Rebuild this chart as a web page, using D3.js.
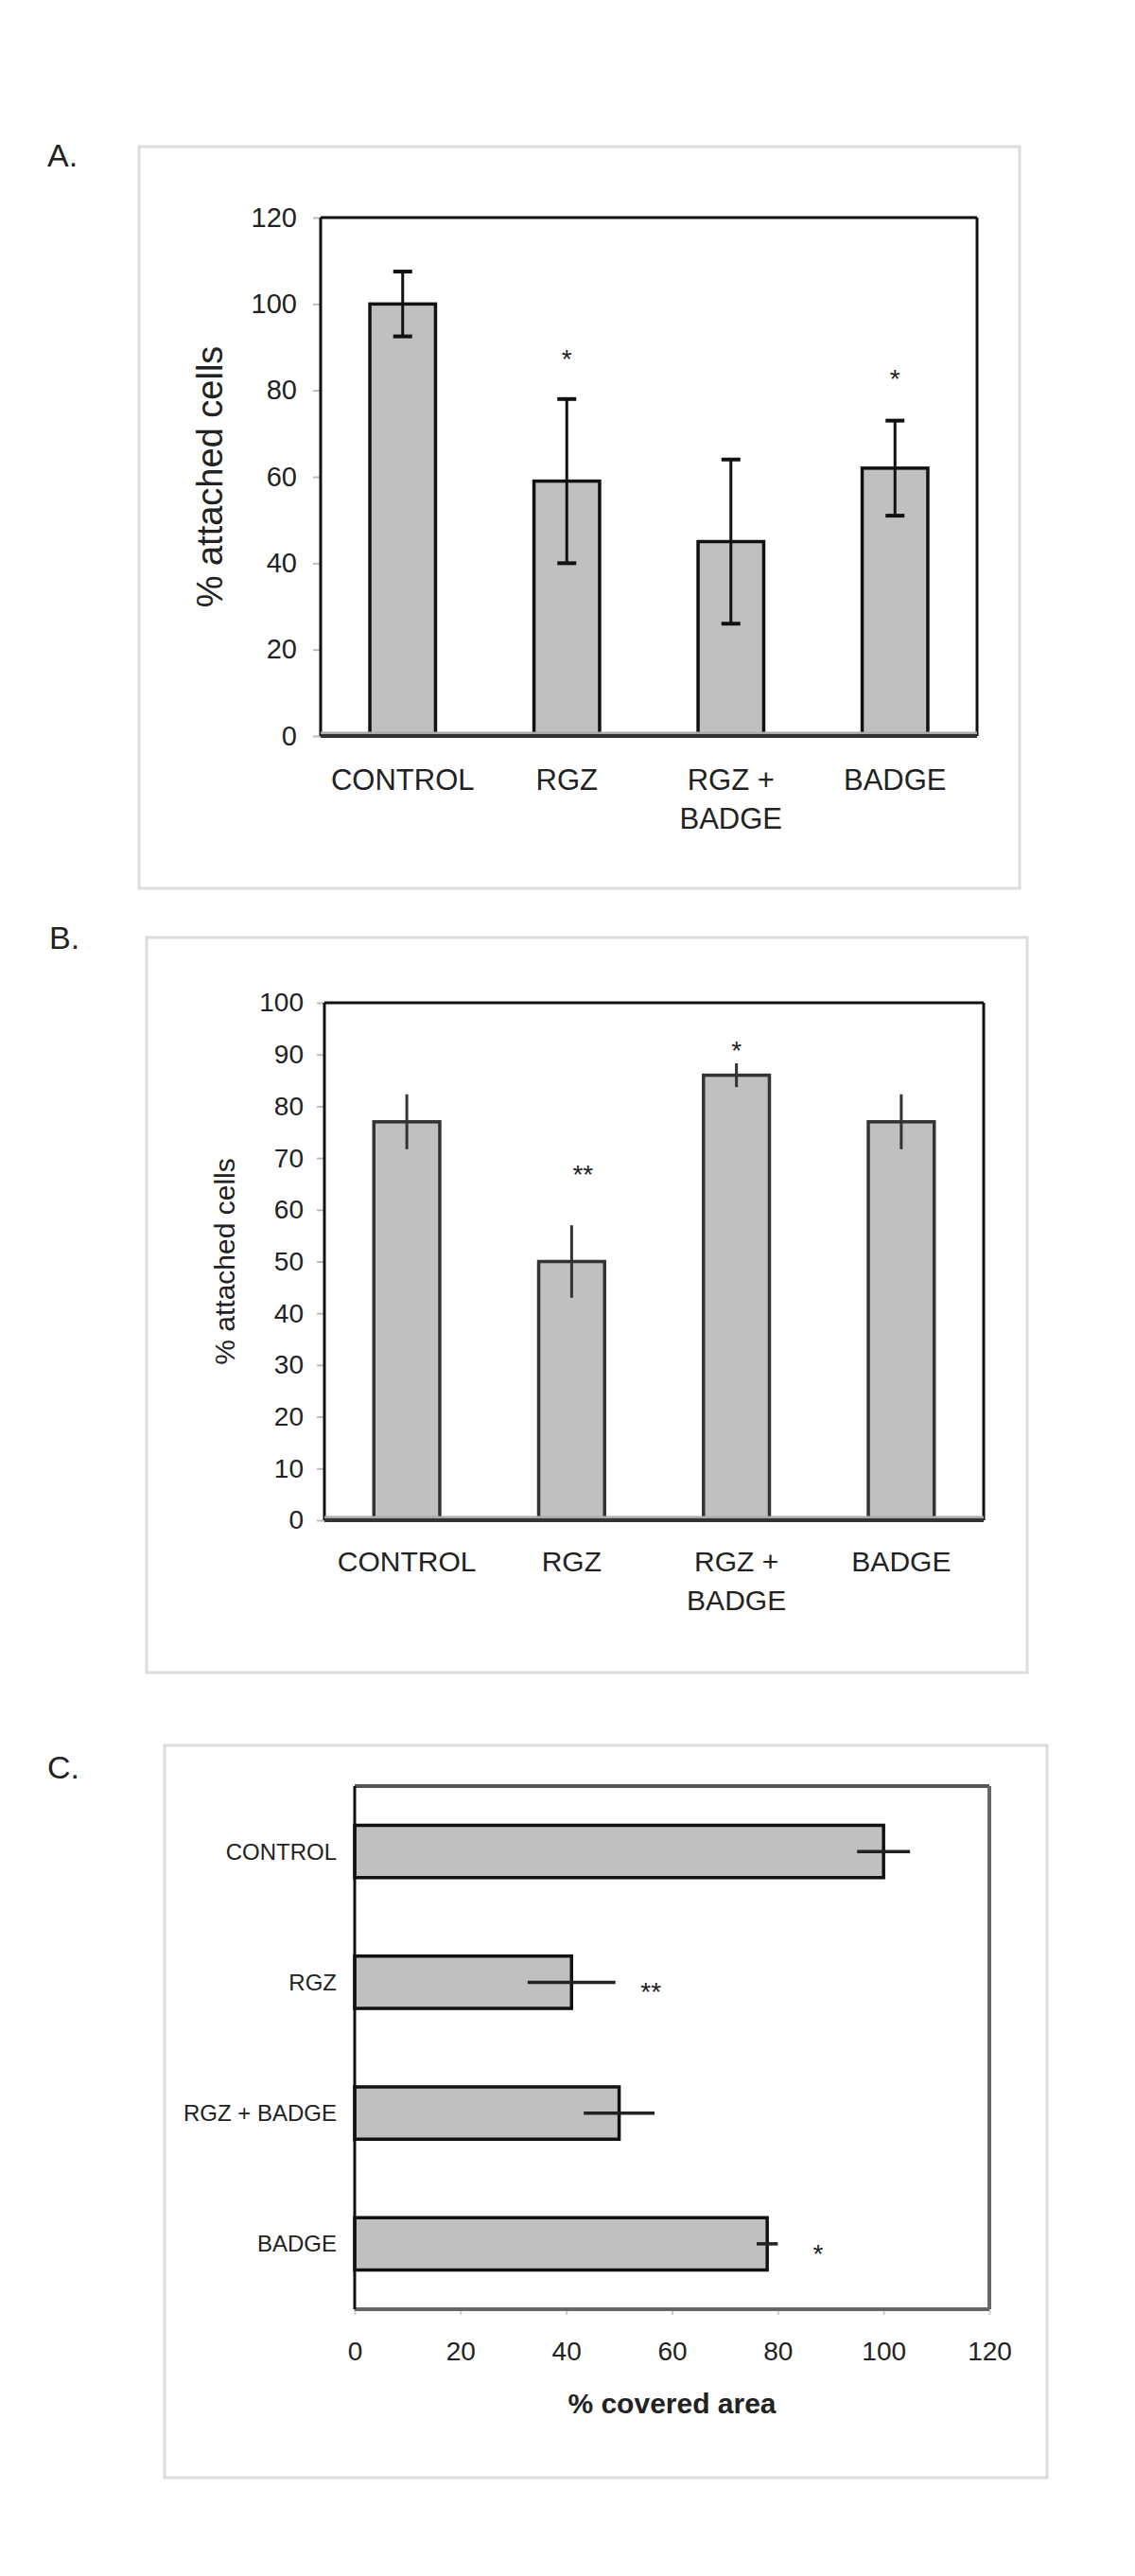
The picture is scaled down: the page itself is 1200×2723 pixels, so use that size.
<!DOCTYPE html>
<html>
<head>
<meta charset="utf-8">
<title>attached cells</title>
<script src="https://cdn.jsdelivr.net/npm/d3@7"></script>
<style>
  body { margin: 0; background: #fff; }
  text { font-family: "Liberation Sans", Arial, sans-serif; fill: #222; }
</style>
</head>
<body>
<script>
// data
var categories = ["CONTROL", "RGZ", "RGZ + BADGE", "BADGE"];

var attachedA = [100, 59, 45, 62];
var errA = [7.5, 19, 19, 11];
var starsA = ["", "*", "", "*"];
var starAtA = [null, 88.7, null, 84];
var ticksA = [0, 20, 40, 60, 80, 100, 120];

var attachedB = [77, 50, 86, 77];
var errB = [5.3, 7, 2.3, 5.3];
var starsB = ["", "**", "*", ""];
var starAtB = [null, 68, 92, null];
var ticksB = [0, 10, 20, 30, 40, 50, 60, 70, 80, 90, 100];

var coveredC = [100, 41, 50, 78];
var errC = [5, 8.3, 6.7, 2];
var starsC = ["", "**", "", "*"];
var starAtC = [null, 56, null, 87.6];
var ticksC = [0, 20, 40, 60, 80, 100, 120];

var svg = d3.select("body").append("svg").attr("width", 1200).attr("height", 2723);

function catLines(c) {
  return c == "RGZ + BADGE" ? ["RGZ +", "BADGE"] : [c];
}

// vertical bar panel (A and B)
function vPanel(o) {
  svg.append("rect").attr("x", o.frame[0]).attr("y", o.frame[1])
    .attr("width", o.frame[2] - o.frame[0]).attr("height", o.frame[3] - o.frame[1])
    .attr("fill", "none").attr("stroke", "#dcdcdc").attr("stroke-width", 3);
  svg.append("text").attr("x", o.tag[0]).attr("y", o.tag[1]).attr("font-size", 34).text(o.tagText);

  var w = o.plot[2] - o.plot[0], h = o.plot[3] - o.plot[1];
  var g = svg.append("g").attr("transform", "translate(" + o.plot[0] + "," + o.plot[1] + ")");
  var x = d3.scaleBand().domain(categories).range([0, w]).paddingInner(0.6).paddingOuter(0.3);
  var y = d3.scaleLinear().domain([0, d3.max(o.ticks)]).range([h, 0]);

  var ax = g.append("g").call(d3.axisLeft(y).tickValues(o.ticks).tickSize(8).tickPadding(o.pad));
  ax.select(".domain").remove();
  ax.selectAll("line").attr("stroke", "#bbb").attr("stroke-width", 2);
  ax.selectAll("text").attr("font-size", o.tickFont).attr("fill", "#222")
    .attr("font-family", "Liberation Sans, Arial, sans-serif");

  // plot frame
  g.append("line").attr("x1", 0).attr("x2", w).attr("y1", 0).attr("y2", 0).attr("stroke", "#111").attr("stroke-width", 3);
  g.append("line").attr("x1", 0).attr("x2", 0).attr("y1", 0).attr("y2", h).attr("stroke", "#111").attr("stroke-width", 3);
  g.append("line").attr("x1", w).attr("x2", w).attr("y1", 0).attr("y2", h).attr("stroke", "#111").attr("stroke-width", 3);

  g.selectAll("rect.bar").data(o.values).enter().append("rect").attr("class", "bar")
    .attr("x", function(d, i) { return x(categories[i]); })
    .attr("y", function(d) { return y(d); })
    .attr("width", x.bandwidth())
    .attr("height", function(d) { return h - y(d); })
    .attr("fill", "#c0c0c0").attr("stroke", o.barStroke).attr("stroke-width", 3.5);

  // bottom axis line
  g.append("line").attr("x1", 0).attr("x2", w).attr("y1", h - 3).attr("y2", h - 3).attr("stroke", "#aaa").attr("stroke-width", 3);
  g.append("line").attr("x1", 0).attr("x2", w).attr("y1", h).attr("y2", h).attr("stroke", "#333").attr("stroke-width", 4);

  var cx = function(i) { return x(categories[i]) + x.bandwidth() / 2; };
  g.selectAll("line.err").data(o.values).enter().append("line").attr("class", "err")
    .attr("x1", function(d, i) { return cx(i); }).attr("x2", function(d, i) { return cx(i); })
    .attr("y1", function(d, i) { return y(d + o.err[i]); })
    .attr("y2", function(d, i) { return y(d - o.err[i]); })
    .attr("stroke", o.errColor).attr("stroke-width", 3);
  if (o.caps) {
    [1, -1].forEach(function(s) {
      g.selectAll("line.cap" + s).data(o.values).enter().append("line")
        .attr("x1", function(d, i) { return cx(i) - 10; }).attr("x2", function(d, i) { return cx(i) + 10; })
        .attr("y1", function(d, i) { return y(d + s * o.err[i]); })
        .attr("y2", function(d, i) { return y(d + s * o.err[i]); })
        .attr("stroke", "#111").attr("stroke-width", 4);
    });
  }

  g.selectAll("text.star").data(o.stars).enter().append("text").attr("class", "star")
    .attr("x", function(d, i) { return cx(i) + (d.length > 1 ? o.dblShift : 0); })
    .attr("y", function(d, i) { return o.starAt[i] == null ? 0 : y(o.starAt[i]) + 16; })
    .attr("text-anchor", "middle").attr("font-size", 28)
    .text(function(d) { return d; });

  var lab = g.selectAll("text.cat").data(categories).enter().append("text").attr("class", "cat")
    .attr("text-anchor", "middle").attr("font-size", o.catFont)
    .attr("y", h + o.catY);
  lab.each(function(c, i) {
    var t = d3.select(this);
    catLines(c).forEach(function(s, k) {
      t.append("tspan").attr("x", cx(i)).attr("dy", k == 0 ? 0 : 41).text(s);
    });
  });

  g.append("text").attr("transform", "translate(" + o.yLabX + "," + (h / 2) + ") rotate(-90)")
    .attr("text-anchor", "middle").attr("font-size", o.yLabFont).text("% attached cells");
}

vPanel({
  frame: [147, 155, 1078, 939], tag: [50, 176], tagText: "A.",
  plot: [339, 230, 1033, 778], ticks: ticksA, pad: 17, tickFont: 29,
  values: attachedA, err: errA, stars: starsA, starAt: starAtA, dblShift: 0,
  barStroke: "#111", errColor: "#111", caps: true,
  catFont: 31, catY: 57, yLabX: -104, yLabFont: 38
});

vPanel({
  frame: [155, 991, 1086, 1768], tag: [52, 1003], tagText: "B.",
  plot: [343, 1060, 1040, 1607], ticks: ticksB, pad: 14, tickFont: 28,
  values: attachedB, err: errB, stars: starsB, starAt: starAtB, dblShift: 12,
  barStroke: "#333", errColor: "#333", caps: false,
  catFont: 30, catY: 54, yLabX: -95, yLabFont: 30
});

// panel C: horizontal bars
(function() {
  svg.append("rect").attr("x", 174).attr("y", 1845).attr("width", 933).attr("height", 774)
    .attr("fill", "none").attr("stroke", "#dcdcdc").attr("stroke-width", 3);
  svg.append("text").attr("x", 50).attr("y", 1880).attr("font-size", 34).text("C.");

  var left = 375, top = 1888, w = 671, h = 553;
  var g = svg.append("g").attr("transform", "translate(" + left + "," + top + ")");
  var y = d3.scaleBand().domain(categories).range([0, h]).paddingInner(0.6).paddingOuter(0.3);
  var x = d3.scaleLinear().domain([0, 120]).range([0, w]);

  var ax = g.append("g").attr("transform", "translate(0," + h + ")")
    .call(d3.axisBottom(x).tickValues(ticksC).tickSize(6).tickPadding(28));
  ax.select(".domain").remove();
  ax.selectAll("line").attr("stroke", "#ccc").attr("stroke-width", 2);
  ax.selectAll("text").attr("font-size", 28).attr("fill", "#222")
    .attr("font-family", "Liberation Sans, Arial, sans-serif");

  g.selectAll("rect.bar").data(coveredC).enter().append("rect").attr("class", "bar")
    .attr("x", 0)
    .attr("y", function(d, i) { return y(categories[i]); })
    .attr("width", function(d) { return x(d); })
    .attr("height", y.bandwidth())
    .attr("fill", "#c0c0c0").attr("stroke", "#111").attr("stroke-width", 3.5);

  // plot frame
  g.append("line").attr("x1", 0).attr("x2", w).attr("y1", 0).attr("y2", 0).attr("stroke", "#555").attr("stroke-width", 4);
  g.append("line").attr("x1", w).attr("x2", w).attr("y1", 0).attr("y2", h).attr("stroke", "#666").attr("stroke-width", 4);
  g.append("line").attr("x1", 0).attr("x2", w).attr("y1", h).attr("y2", h).attr("stroke", "#666").attr("stroke-width", 4);
  g.append("line").attr("x1", 0).attr("x2", 0).attr("y1", 0).attr("y2", h).attr("stroke", "#111").attr("stroke-width", 3);

  var cy = function(i) { return y(categories[i]) + y.bandwidth() / 2; };
  g.selectAll("line.err").data(coveredC).enter().append("line").attr("class", "err")
    .attr("y1", function(d, i) { return cy(i); }).attr("y2", function(d, i) { return cy(i); })
    .attr("x1", function(d, i) { return x(d - errC[i]); })
    .attr("x2", function(d, i) { return x(d + errC[i]); })
    .attr("stroke", "#222").attr("stroke-width", 3.5);

  g.selectAll("text.star").data(starsC).enter().append("text")
    .attr("x", function(d, i) { return starAtC[i] == null ? 0 : x(starAtC[i]); })
    .attr("y", function(d, i) { return cy(i) + 20; })
    .attr("text-anchor", "middle").attr("font-size", 28)
    .text(function(d) { return d; });

  g.selectAll("text.cat").data(categories).enter().append("text")
    .attr("x", -19).attr("y", function(d, i) { return cy(i); }).attr("dy", "0.35em")
    .attr("text-anchor", "end").attr("font-size", 24).text(function(d) { return d; });

  g.append("text").attr("x", w / 2).attr("y", h + 110).attr("text-anchor", "middle")
    .attr("font-size", 30).attr("font-weight", "bold").text("% covered area");
})();
</script>
</body>
</html>
